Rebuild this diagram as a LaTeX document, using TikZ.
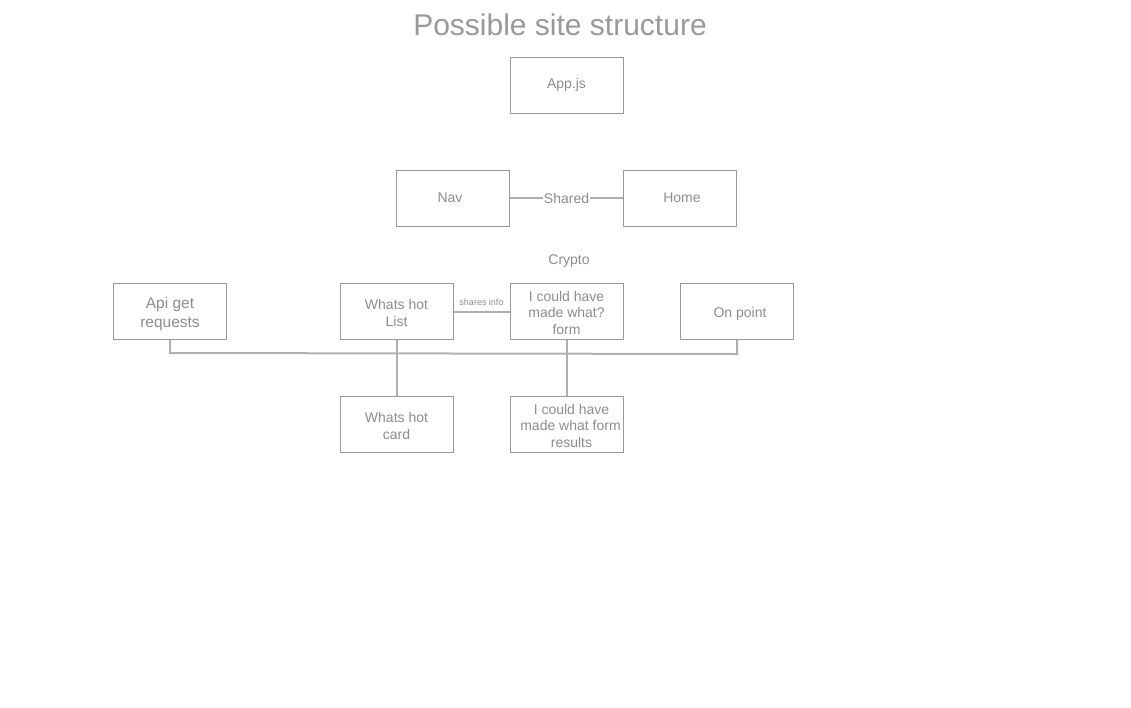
\documentclass[tikz,border=0pt]{standalone}
\usepackage{fontspec}
\setmainfont{Liberation Sans}
\newcommand{\dn}[1]{\raisebox{-3pt}[\height][\depth]{\begin{tabular}{@{}c@{}}#1\end{tabular}}}
\begin{document}
\begin{tikzpicture}[x=1pt,y=-1pt,
  box/.style={draw=boxgray,line width=1pt,minimum width=113pt,minimum height=56pt,inner sep=0pt,text=txtgray,align=center,font=\fontsize{14}{16.5}\selectfont},
  link/.style={draw=linegray,line width=2pt},
  lbl/.style={text=txtgray,fill=white,inner sep=1pt,font=\fontsize{14}{17}\selectfont}]
\definecolor{boxgray}{HTML}{999999}
\definecolor{txtgray}{HTML}{8C8C8C}
\definecolor{linegray}{HTML}{B0B0B0}
\definecolor{titlegray}{HTML}{999999}
\useasboundingbox (0,0) rectangle (1131,707);
\node[text=titlegray,font=\fontsize{30}{35}\selectfont] (title) at (560,25) {Possible site structure};
\node[box] (app) at (566.5,85) {App.js};
\node[box] (nav) at (453,198) {\hspace{-6pt}Nav};
\node[box] (home) at (680,198) {\hspace{4pt}Home};
\node[lbl,fill=none] (crypto) at (569,261.5) {Crypto};
\node[box,font=\fontsize{15.5}{19}\selectfont] (api) at (170,311.5) {\dn{Api get\\requests}};
\node[box] (hotlist) at (396.5,311.5) {\dn{Whats hot\\List}};
\node[box] (form) at (566.5,311.5) {\dn{I could have\\made what?\\form}};
\node[box] (onpoint) at (737,311.5) {\dn{\hspace{6pt}On point}};
\node[box] (card) at (396.5,424.5) {\dn{Whats hot\\card}};
\node[box] (results) at (566.5,424.5) {\dn{\hspace{10pt}I could have\\\hspace{8pt}made what form\\\hspace{10pt}results}};
\draw[link] (nav.east) -- node[lbl] (shared) {Shared} (home.west);
\draw[link] (hotlist.east) -- node[above=4pt,text=txtgray,font=\fontsize{9}{10}\selectfont,inner sep=1pt] (shares) {shares info} (form.west);
\coordinate (busL) at (170,353);
\coordinate (busR) at (737,354);
\draw[link] (api.south) -- (busL) -- (busR) -- (onpoint.south);
\draw[link] (hotlist.south) -- (card.north);
\draw[link] (form.south) -- (results.north);
\end{tikzpicture}
\end{document}
